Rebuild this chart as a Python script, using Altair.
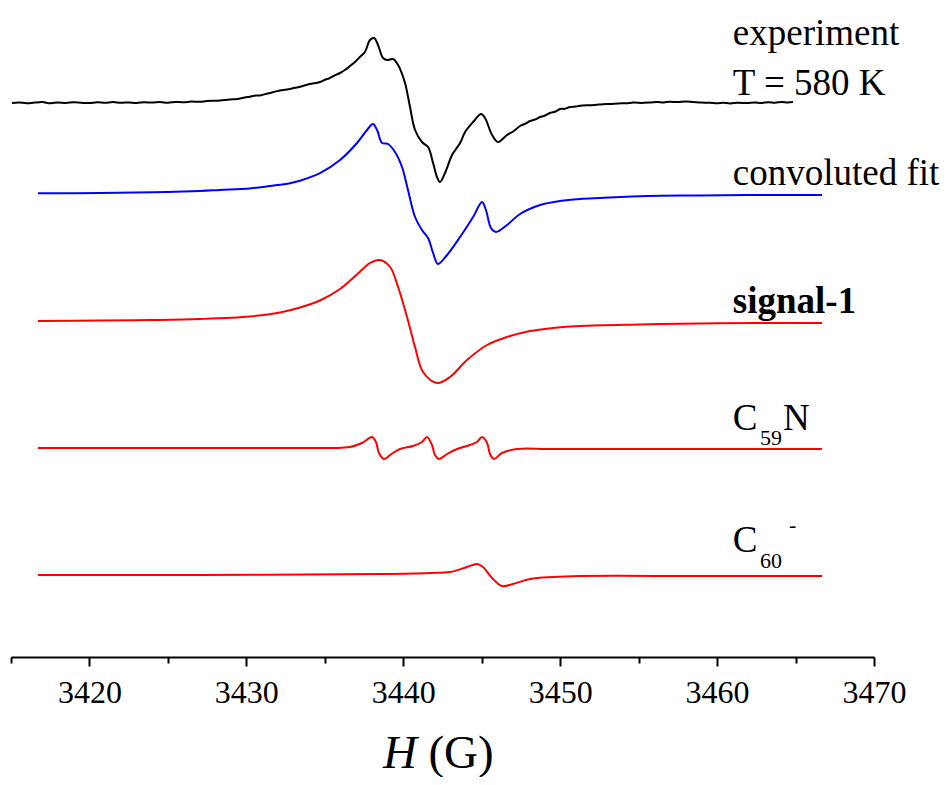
import altair as alt
import pandas as pd

# ---------------- data (magnetic field in G, signal in arbitrary units) ----------------
exp_field = [3415.06, 3415.5, 3416.0, 3416.5, 3417.0, 3417.5, 3418.0, 3418.5, 3419.0, 3419.5,
             3420.0, 3420.5, 3421.0, 3421.5, 3422.0, 3422.5, 3423.0, 3423.5, 3424.0, 3424.5,
             3425.0, 3425.5, 3426.0, 3426.5, 3427.0, 3427.5, 3428.13, 3428.96, 3429.3, 3429.60,
             3429.9, 3430.23, 3430.5, 3430.87, 3431.2, 3431.51, 3431.9, 3432.34, 3432.6, 3432.91,
             3433.2, 3433.42, 3433.75, 3434.06, 3434.4, 3434.69, 3435.0, 3435.33, 3435.6, 3435.97,
             3436.3, 3436.61, 3436.85, 3437.05, 3437.3, 3437.56, 3437.88, 3438.14, 3438.39, 3438.71,
             3438.96, 3439.35, 3439.67, 3440.11, 3440.43, 3440.75, 3441.19, 3441.58, 3441.90, 3442.15,
             3442.34, 3442.66, 3443.11, 3443.62, 3443.94, 3444.45, 3444.96, 3445.21, 3445.66, 3446.04,
             3446.61, 3447.0, 3447.44, 3447.8, 3448.08, 3448.4, 3448.72, 3449.0, 3449.35, 3449.7,
             3449.99, 3450.3, 3450.63, 3451.0, 3451.27, 3451.8, 3452.22, 3452.7, 3453.18, 3453.7,
             3454.2, 3454.7, 3455.2, 3455.73, 3456.2, 3456.6, 3457.0, 3457.5, 3458.0, 3458.47,
             3459.0, 3459.55, 3460.0, 3460.4, 3460.83, 3461.3, 3461.91, 3462.4, 3462.8, 3463.3,
             3463.7, 3464.1, 3464.5, 3464.84]
exp_signal = [0, 0.6, -0.3, 0.4, 0.9, -0.2, 0.5, 0.1, 0.8, 0.2,
              -0.1, 0.7, 0.3, 0.9, 0.2, 0.6, 0.0, 0.8, 0.4, 0.9,
              0.3, 1.1, 0.7, 1.5, 1.2, 2.0, 2.3, 3.5, 3.8, 4.5,
              5.6, 6.3, 7.3, 7.5, 8.9, 10, 11.6, 13, 13.4, 14.5,
              15.6, 16.2, 17.8, 19, 19.9, 21, 23.2, 25, 27.4, 30,
              33.2, 37, 40, 43, 47, 51, 63, 65, 58, 45,
              43, 44, 38, 20, -4, -27, -39, -44, -60, -74,
              -79, -70, -52, -40, -29, -19, -11, -15, -32, -39,
              -32, -28.5, -23, -20.5, -18, -16.5, -14, -12.8, -10, -8.5,
              -6, -5.8, -4, -3.5, -2.7, -2.2, -2.0, -1.2, -1.0, -0.5,
              -0.2, 0.4, 0.1, 0.5, 1.0, 0.6, 1.2, 0.9, 1.5, 1.0,
              0.4, 0.3, -0.2, 0.3, -0.4, 0.2, 0, 0.5, 0.1, 0.7,
              0.3, 1.0, 0.6, 1.0]

fit_field = [3416.72, 3420.67, 3424.05, 3427.05, 3428.32, 3430.23, 3431.51, 3432.78, 3433.42, 3434.69,
             3435.97, 3437.05, 3437.69, 3438.07, 3438.33, 3438.65, 3439.03, 3439.47, 3439.92, 3440.30,
             3440.75, 3441.19, 3441.58, 3441.90, 3442.21, 3442.79, 3443.62, 3444.45, 3445.02, 3445.27,
             3445.59, 3445.91, 3446.61, 3447.44, 3448.72, 3449.99, 3451.27, 3452.54, 3455.54, 3458.91,
             3462.74, 3466.69]
fit_signal = [-0.3, 0, 0.7, 2, 3, 4.5, 7, 9.8, 12.3, 19.8,
              33, 50, 63, 69, 63, 50, 49, 41, 26, 3,
              -24, -37, -45, -60, -71, -62, -44, -24, -9, -17,
              -35, -39, -32, -21, -12, -8, -6, -5, -3, -2.5,
              -2, -2]

s1_field = [3416.72, 3420.67, 3423.86, 3427.05, 3430.23, 3432.14, 3433.42, 3434.69, 3435.97, 3437.05,
            3437.88, 3438.52, 3439.16, 3439.67, 3440.24, 3440.75, 3441.26, 3442.15, 3442.98, 3444.06,
            3445.34, 3446.61, 3448.08, 3449.54, 3451.27, 3455.09, 3458.91, 3462.74, 3466.69]
s1_signal = [0, 0.5, 1, 2, 4.5, 8.5, 13.5, 20.5, 32, 46.5,
             58, 61, 54, 34, 4, -26, -51, -62, -56, -39,
             -24, -16, -10, -7, -5, -3.5, -2.5, -2, -2]

c59n_field = [3416.72, 3423.86, 3433.42, 3435.52, 3436.61, 3437.37, 3438.01, 3438.26, 3438.45, 3438.77,
              3439.16, 3439.79, 3440.62, 3441.19, 3441.51, 3441.83, 3442.02, 3442.28, 3442.79, 3443.43,
              3444.25, 3444.70, 3445.02, 3445.34, 3445.53, 3445.78, 3446.29, 3447.25, 3449.35, 3455.73,
              3466.69]
c59n_signal = [0, 0, 0, 0, 1, 5, 11, 6, -5, -11,
               -7, -1, 2, 6, 11, 3, -7, -11, -6, -1,
               3, 6, 11, 5, -6, -11, -5, -1, -1, -1,
               -1]

c60_field = [3416.72, 3427.05, 3438.52, 3441.70, 3442.98, 3444.06, 3444.70, 3445.08, 3445.66, 3446.29,
             3446.99, 3448.08, 3449.54, 3451.27, 3458.91, 3466.69]
c60_signal = [0, 0, 1, 2, 3, 8, 11, 8, -3, -11,
              -9, -4, -2, -1, -1, -1]

series_names = ["experiment", "convoluted fit", "signal-1", "C59N", "C60-"]
series_offsets = [554, 464, 336, 209, 82]
series_colors = ["#000000", "#0000FF", "#FF0000", "#FF0000", "#FF0000"]
x_ticks = [3415, 3420, 3425, 3430, 3435, 3440, 3445, 3450, 3455, 3460, 3465, 3470]

rows = []
for name, off, fld, sig in zip(series_names, series_offsets,
                               [exp_field, fit_field, s1_field, c59n_field, c60_field],
                               [exp_signal, fit_signal, s1_signal, c59n_signal, c60_signal]):
    for f, s in zip(fld, sig):
        rows.append({"field": f, "value": off + s, "series": name})
df = pd.DataFrame(rows)

# ---------------- annotations ----------------
lab_x = 3461.0
regular_labels = pd.DataFrame({
    "text": ["experiment", "T = 580 K", "convoluted fit", "C", "N", "C"],
    "x": [lab_x, lab_x, lab_x, lab_x, 3464.20, lab_x],
    "y": [612, 562, 472, 227, 227, 105],
})
bold_labels = pd.DataFrame({"text": ["signal-1"], "x": [lab_x], "y": [344]})
small_labels = pd.DataFrame({
    "text": ["59", "60", "-"],
    "x": [3462.74, 3462.74, 3464.59],
    "y": [212, 89, 125],
})
title_it = pd.DataFrame({"text": ["H"], "x": [3438.71], "y": [-111]})
title_rg = pd.DataFrame({"text": ["(G)"], "x": [3441.60], "y": [-111]})

FONT = "Liberation Serif"
xscale = alt.Scale(domain=[3415, 3470], nice=False, zero=False)
yscale = alt.Scale(domain=[0, 649], nice=False, zero=False)

lines = alt.Chart(df).mark_line(strokeWidth=2, interpolate="catmull-rom").encode(
    x=alt.X("field:Q", scale=xscale, title=None,
            axis=alt.Axis(values=x_ticks, format="d",
                          labelExpr="datum.value % 10 === 0 ? datum.label : ''",
                          labelFont=FONT, labelFontSize=32, labelColor="black",
                          labelPadding=11, labelFlush=False,
                          tickSize={"condition": {"test": "datum.value % 10 === 0", "value": 9}, "value": 6},
                          tickWidth=2, tickColor="black",
                          domainColor="black", domainWidth=2, grid=False)),
    y=alt.Y("value:Q", scale=yscale, axis=None),
    color=alt.Color("series:N", scale=alt.Scale(domain=series_names, range=series_colors), legend=None),
    detail="series:N",
)


def txt(data, size, weight="normal", style="normal"):
    return alt.Chart(data).mark_text(font=FONT, fontSize=size, fontWeight=weight, fontStyle=style,
                                     align="left", baseline="alphabetic", color="black").encode(
        x=alt.X("x:Q", scale=xscale), y=alt.Y("y:Q", scale=yscale), text="text:N")


chart = alt.layer(
    lines,
    txt(regular_labels, 37),
    txt(bold_labels, 37, weight="bold"),
    txt(small_labels, 22),
    txt(title_it, 47, style="italic"),
    txt(title_rg, 47),
).properties(
    width=863, height=649,
    background="white",
    autosize=alt.AutoSizeParams(type="none"),
    padding={"left": 3, "top": 0, "right": 69, "bottom": 120},
).configure_view(stroke=None)

chart.save("out.html", embed_options={"renderer": "svg", "actions": False})
